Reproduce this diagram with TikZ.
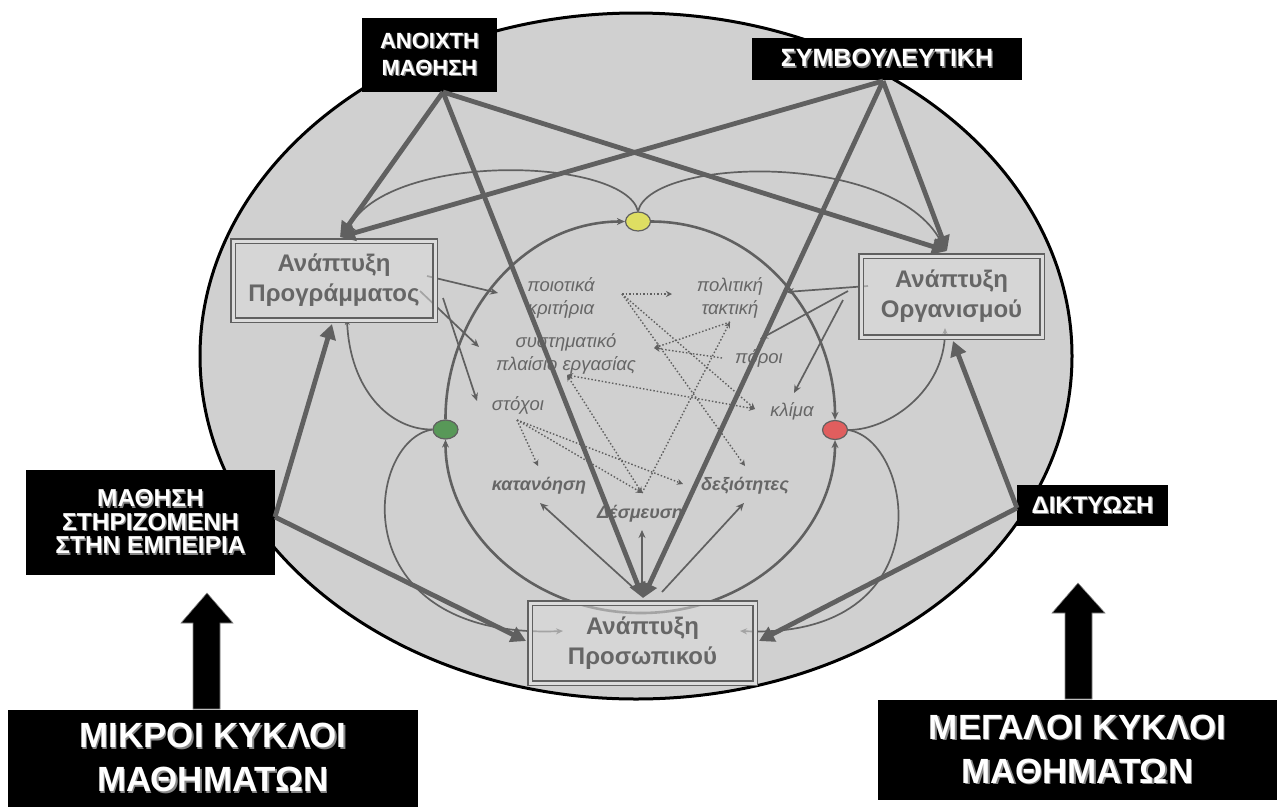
\documentclass[tikz,border=0pt]{standalone}
\usepackage{fontspec}
\setmainfont{Liberation Sans}
\usetikzlibrary{arrows.meta,shapes.geometric}

\definecolor{linegray}{RGB}{96,96,96}
\definecolor{ovalfill}{RGB}{208,208,208}
\definecolor{boxfill}{RGB}{220,220,220}
\definecolor{textgray}{RGB}{102,102,102}
\definecolor{halo}{RGB}{135,135,135}
\definecolor{ovyellow}{RGB}{222,222,98}
\definecolor{ovgreen}{RGB}{88,152,88}
\definecolor{ovred}{RGB}{224,94,94}

% white caption text with a soft grey offset behind it
\newcommand\glow[1]{\makebox[0pt][l]{\kern1.3pt\raisebox{-1.3pt}{\textcolor{halo}{#1}}}#1}

\begin{document}
\begin{tikzpicture}[x=1pt,y=-1pt,
  labelbox/.style={fill=black,text=white,align=center,inner sep=0pt,font=\bfseries\fontsize{22}{27}\selectfont},
  bigbox/.style={labelbox,font=\bfseries\fontsize{35}{44}\selectfont},
  devbox/.style={draw=linegray,double=boxfill,double distance=3pt,line width=1.6pt,fill=boxfill,fill opacity=0.55,text opacity=1,text=textgray,align=center,inner sep=0pt,font=\bfseries\fontsize{24}{30}\selectfont},
  topic/.style={text=textgray,align=center,inner sep=0pt,font=\itshape\fontsize{18.5}{23}\selectfont},
  outcome/.style={topic,font=\bfseries\itshape\fontsize{18}{23}\selectfont},
  pin/.style={ellipse,draw=linegray,line width=1.2pt,minimum width=25pt,minimum height=19pt,inner sep=0pt},
  heavy/.style={draw=linegray,line width=4.8pt,-{Triangle[length=15pt,width=16pt]}},
  ring/.style={draw=linegray,line width=2.6pt,-{Stealth[length=8pt,width=7pt]}},
  link/.style={draw=linegray,line width=1.7pt},
  linkarrow/.style={link,-{Stealth[length=8pt,width=7pt]}},
  hint/.style={draw=linegray,line width=1.4pt,dash pattern=on 1.5pt off 2pt,-{Stealth[length=6pt,width=6pt]}},
  hintboth/.style={hint,{Stealth[length=6pt,width=6pt]}-{Stealth[length=6pt,width=6pt]}},
]
\path[use as bounding box] (0,0) rectangle (1277,807);

% background oval
\draw[line width=3pt,fill=ovalfill] (636,356) ellipse [x radius=436, y radius=343];

% coloured junction points of the inner cycle
\node[pin,fill=ovyellow] (yel) at (638,221.5) {};
\node[pin,fill=ovgreen] (grn) at (445.5,429.5) {};
\node[pin,fill=ovred] (red) at (835,430) {};
\coordinate (ringbottom) at (641,613);

% inner cycle
\draw[ring] (grn.north) .. controls (445,320) and (520,221.5) .. (yel.west);
\draw[ring] (yel.east) .. controls (760,221.5) and (835,320) .. (red.north);
\draw[ring] (ringbottom) .. controls (530,613) and (445.5,530) .. (grn.south);
\draw[ring] (ringbottom) .. controls (752,613) and (835,530) .. (red.south);

% curved links between the development boxes and the junctions
\coordinate (progTop) at (345,237);
\coordinate (orgTop) at (945,251);
\coordinate (progFoot) at (347,319);
\coordinate (orgFoot) at (945,328);
\coordinate (persIn) at (563,631);
\coordinate (persInR) at (740,631);
\draw[link] (progTop) .. controls (370,150) and (625,155) .. (yel.north);
\draw[link] (orgTop) .. controls (910,150) and (651,155) .. (yel.north);
\draw[link,-{Stealth[length=6pt,width=5pt]}] (grn.west) .. controls (390,430) and (350,390) .. (progFoot);
\draw[link,-{Stealth[length=7pt,width=6pt]}] (grn.west) .. controls (365,440) and (340,640) .. (persIn);
\draw[link,-{Stealth[length=6pt,width=5pt]}] (red.east) .. controls (890,430) and (945,390) .. (orgFoot);
\draw[link,-{Stealth[length=7pt,width=6pt]}] (red.east) .. controls (915,440) and (945,640) .. (persInR);

% topics inside the cycle
\node[topic] (crit) at (561,298) {ποιοτικά\\κριτήρια};
\node[topic] (policy) at (730,298) {πολιτική\\τακτική};
\node[topic] (frame) at (566,354) {συστηματικό\\πλαίσιο εργασίας};
\node[topic] (means) at (759,358) {πόροι};
\node[topic] (climate) at (792,411) {κλίμα};
\node[topic] (goals) at (518,405) {στόχοι};
\node[outcome] (underst) at (539,486) {κατανόηση};
\node[outcome] (skills) at (745,486) {δεξιότητες};
\node[outcome] (commit) at (640,514) {Δέσμευση};

% dotted relations between topics
\coordinate (critR) at (622,294);
\coordinate (policyL) at (672,294);
\coordinate (policyB) at (730,322);
\coordinate (meansL) at (722,358);
\coordinate (frameR) at (654,348);
\coordinate (frameB) at (567,375);
\coordinate (climateL) at (755,409);
\coordinate (skillsT) at (745,466);
\coordinate (skillsL) at (683,484);
\coordinate (goalsB) at (517,420);
\coordinate (understT) at (538,466);
\coordinate (commitT) at (642,493);
\draw[hint] (critR) -- (policyL);
\draw[hint] (critR) -- (skillsT);
\draw[hint] (critR) -- (climateL);
\draw[hint] (meansL) -- (frameR);
\draw[hint] (policyB) -- (frameR);
\draw[hint] (commitT) -- (policyB);
\draw[hintboth] (frameB) -- (climateL);
\draw[hintboth] (frameB) -- (commitT);
\draw[hint] (goalsB) -- (understT);
\draw[hint] (goalsB) -- (skillsL);
\draw[hint] (goalsB) -- (commitT);

% thin solid arrows from the development boxes
\coordinate (p1) at (427,276);
\coordinate (p2) at (420,291);
\coordinate (p3) at (443,298);
\coordinate (o1) at (868,286);
\coordinate (o2) at (848,291);
\coordinate (o3) at (843,300);
\coordinate (s1) at (637,591);
\coordinate (s2) at (642,596);
\coordinate (s3) at (662,592);
\draw[linkarrow] (p1) -- (498,293) coordinate (critIn);
\draw[linkarrow] (p2) -- (479,347) coordinate (frameIn);
\draw[linkarrow] (p3) -- (477,401) coordinate (goalsIn);
\draw[linkarrow] (o1) -- (786,292) coordinate (policyIn);
\draw[linkarrow] (o2) -- (760,339) coordinate (meansIn);
\draw[linkarrow] (o3) -- (794,393) coordinate (climateIn);
\draw[linkarrow] (s1) -- (540,503) coordinate (understIn);
\draw[linkarrow] (s2) -- (642,530) coordinate (commitIn);
\draw[linkarrow] (s3) -- (744,503) coordinate (skillsIn);

% development boxes
\node[devbox,minimum width=202,minimum height=79] (prog) at (334,280.5) {Ανάπτυξη\\Προγράμματος};
\node[devbox,minimum width=181,minimum height=81] (org) at (951.5,296.5) {Ανάπτυξη\\Οργανισμού};
\node[devbox,minimum width=225,minimum height=80] (pers) at (642.5,643) {Ανάπτυξη\\Προσωπικού};

% caption boxes
\node[labelbox,minimum width=135,minimum height=74] (open) at (429.5,55) {\glow{ΑΝΟΙΧΤΗ}\\\glow{ΜΑΘΗΣΗ}};
\node[labelbox,minimum width=270,minimum height=42,font=\bfseries\fontsize{25}{28}\selectfont] (cons) at (887,59) {\glow{ΣΥΜΒΟΥΛΕΥΤΙΚΗ}};
\node[labelbox,minimum width=249,minimum height=105,font=\bfseries\fontsize{24.5}{23.5}\selectfont] (exp) at (150.5,522.5) {\glow{ΜΑΘΗΣΗ}\\\glow{ΣΤΗΡΙΖΟΜΕΝΗ}\\\glow{ΣΤΗΝ ΕΜΠΕΙΡΙΑ}};
\node[labelbox,minimum width=151,minimum height=41,font=\bfseries\fontsize{24}{28}\selectfont] (net) at (1092.5,505.5) {\glow{ΔΙΚΤΥΩΣΗ}};
\node[bigbox,minimum width=410,minimum height=97] (small) at (213,758.5) {\glow{ΜΙΚΡΟΙ ΚΥΚΛΟΙ}\\\glow{ΜΑΘΗΜΑΤΩΝ}};
\node[bigbox,minimum width=399,minimum height=100] (large) at (1077.5,750) {\glow{ΜΕΓΑΛΟΙ ΚΥΚΛΟΙ}\\\glow{ΜΑΘΗΜΑΤΩΝ}};

% heavy arrows from the caption boxes
\coordinate (openS) at (443,92);
\coordinate (consS) at (883,81);
\coordinate (expE) at (275,517);
\coordinate (netW) at (1017,508);
\coordinate (progT) at (340,237);
\coordinate (progB) at (332,324);
\coordinate (orgT) at (947,251);
\coordinate (orgB) at (953,341);
\coordinate (persT) at (643,598);
\coordinate (persL) at (526,641);
\coordinate (persR) at (759,641);
\draw[heavy] (openS) -- (progT);
\draw[heavy] (openS) -- (orgT);
\draw[heavy] (openS) -- (persT);
\draw[heavy] (consS) -- (progT);
\draw[heavy] (consS) -- (orgT);
\draw[heavy] (consS) -- (persT);
\draw[heavy] (expE) -- (progB);
\draw[heavy] (expE) -- (persL);
\draw[heavy] (netW) -- (orgB);
\draw[heavy] (netW) -- (persR);

% block arrows rising from the bottom captions
\fill[draw=halo,line width=0.6pt] (193,709) -- (193,623) -- (181,623) -- (207,593) -- (233,623) -- (220,623) -- (220,709) -- cycle;
\fill[draw=halo,line width=0.6pt] (1065,699) -- (1065,613) -- (1052,613) -- (1078,583) -- (1105,613) -- (1092,613) -- (1092,699) -- cycle;
\end{tikzpicture}
\end{document}
